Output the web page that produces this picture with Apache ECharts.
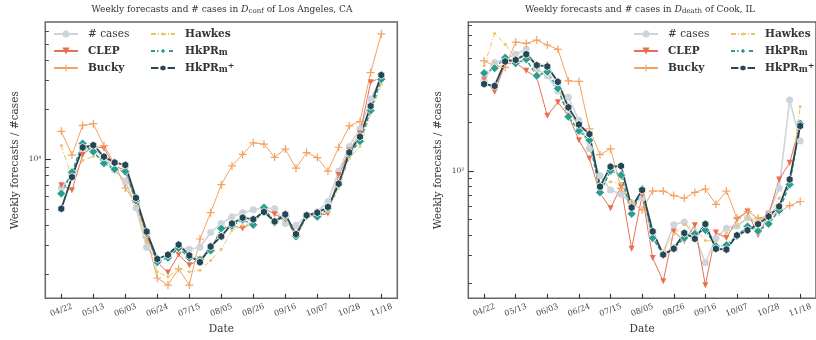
<!DOCTYPE html>
<html><head><meta charset="utf-8">
<script src="https://cdn.jsdelivr.net/npm/echarts@6/dist/echarts.min.js"></script>
<style>html,body{margin:0;padding:0;background:#fff}#c{width:816px;height:340px}</style>
</head><body><div id="c"></div>
<script>
// ---- data ----
const dates = ['04/22','04/29','05/06','05/13','05/20','05/27','06/03','06/10','06/17','06/24','07/01','07/08','07/15','07/22','07/29','08/05','08/12','08/19','08/26','09/02','09/09','09/16','09/23','09/30','10/07','10/14','10/21','10/28','11/04','11/11','11/18'];
const xTickIdx = [0,3,6,9,12,15,18,21,24,27,30];

// Los Angeles, CA (confirmed cases)
const laCases  = [6700,8130,11320,11640,10140,8590,7380,5090,2930,2480,2620,2930,2850,2930,3600,4080,4490,4750,4950,5090,5020,4080,3970,4560,4820,5530,8470,11960,15330,23200,31400];
const laClep   = [6960,6500,10610,12100,11640,9080,8590,5450,3460,2380,2060,2640,2280,2480,2860,3760,3970,3810,4140,5090,4640,4310,3560,4560,4560,4690,8020,11320,14310,29300,31400];
const laBucky  = [14770,10610,16040,16430,12090,9460,6700,5450,3370,1910,1730,2170,1730,3290,4750,7020,9120,10710,12590,12350,10280,11530,8830,10980,10240,8470,11830,15920,16950,33500,57500];
const laHawkes = [12130,7700,9860,10420,10140,9080,8130,5450,3140,2080,1940,2160,2080,2125,2440,2850,3700,3970,4140,4950,4310,4430,3370,4430,4560,4820,6700,10140,11960,18860,28500];
const laHkm    = [6200,8360,12470,11120,9460,8710,8440,5630,3560,2380,2530,2900,2530,2460,2800,3810,3950,4310,4010,5090,4140,4540,3410,4540,4490,5050,7020,10750,12870,19740,30500];
const laHkmp   = [5020,7800,11800,12180,10380,9550,9240,5840,3650,2490,2640,3040,2615,2380,2960,3410,4080,4430,4330,4800,4200,4640,3520,4580,4750,5140,7110,11010,13700,21000,32400];

// Cook, IL (deaths)
const ckCases  = [362,471,493,530,569,428,389,313,286,205,137,93,75.9,71.4,63,67.5,38.2,31,46.2,48,39.3,26.8,38.2,44,45.3,50.8,47.3,54.5,77.8,275,153];
const ckClep   = [371,310,460,471,418,380,220,267,220,155,119,72.5,58.5,79.7,32.7,70.7,28.7,20.6,42,36.5,45.8,19.4,41.4,38.2,49.6,55.8,39.7,53.2,88.4,112,196];
const ckBucky  = [482,449,439,631,619,649,605,569,362,359,182,126,137,77.8,63,57.1,74.8,74.8,70.1,67.5,73.4,77,61.9,74.8,50.8,55.8,50.8,52.2,55.3,60.8,64.4];
const ckHawkes = [449,714,611,505,530,428,471,323,236,188,158,83.5,85.5,83.5,60,72.5,39.8,31.6,40.4,46.2,44,36.8,36.5,41,45.3,50.8,49.3,52.2,67.5,83.5,250];
const ckHkm    = [405,434,505,466,493,389,412,325,217,177,155,73.4,100,94,54,77,38.2,30.1,33,38.2,40.6,42.8,34,34.5,39.3,45.1,42.2,46.8,56.7,82.3,196];
const ckHkmp   = [346,337,478,489,530,453,445,357,248,194,169,79.7,106,107,59.1,75.9,42,30.1,32.8,41,37.8,46.6,32.7,32.4,39.7,42.7,46.6,52,60,88.4,190];

const laMajor = [10000];
const laMinor = [2000,3000,4000,5000,6000,7000,8000,9000,20000,30000,40000,50000,60000];
const ckMajor = [100];
const ckMinor = [20,30,40,50,60,70,80,90,200,300,400,500,600,700,800];
const laRange = [1437, 67900];
const ckRange = [16.1, 841];

// ---- chart ----
const SERIF = 'DejaVu Serif';
const plusPath = 'path://M0,4.25H10V5.75H0Z M4.25,0H5.75V10H4.25Z';
const hexPath = 'path://M5,0 L9.33,2.5 L9.33,7.5 L5,10 L0.67,7.5 L0.67,2.5 Z';

const styles = {
  '# cases': {symbol:'circle', symbolSize:7, lineStyle:{color:'#ced4da', width:1.6}, itemStyle:{color:'#ced4da'}},
  'CLEP':    {symbol:'triangle', symbolRotate:180, symbolSize:6, lineStyle:{color:'#e76f51', width:1}, itemStyle:{color:'#e76f51'}},
  'Bucky':   {symbol:plusPath, symbolSize:8, lineStyle:{color:'#f4a261', width:1}, itemStyle:{color:'#f4a261'}},
  'Hawkes':  {symbol:'circle', symbolSize:3, lineStyle:{color:'#e9c46a', width:1, type:[5,2,1,2]}, itemStyle:{color:'#e9c46a'}},
  'HkPRm':   {symbol:'diamond', symbolSize:9, lineStyle:{color:'#2a9d8f', width:1.5, type:[4,2]}, itemStyle:{color:'#2a9d8f', borderColor:'#fff', borderWidth:0.8}},
  'HkPRm+':  {symbol:hexPath, symbolKeepAspect:true, symbolSize:8, lineStyle:{color:'#264653', width:1.8}, itemStyle:{color:'#264653', borderColor:'#fff', borderWidth:0.8}}
};
function mk(name, arr, gi){
  return Object.assign({name, type:'line', xAxisIndex:gi, yAxisIndex:gi*2, silent:true,
    animation:false, showAllSymbol:true, data: arr.map((v,i)=>[i,v])}, styles[name]);
}
const series = [
  mk('# cases',laCases,0), mk('CLEP',laClep,0), mk('Bucky',laBucky,0), mk('Hawkes',laHawkes,0), mk('HkPRm',laHkm,0), mk('HkPRm+',laHkmp,0),
  mk('# cases',ckCases,1), mk('CLEP',ckClep,1), mk('Bucky',ckBucky,1), mk('Hawkes',ckHawkes,1), mk('HkPRm',ckHkm,1), mk('HkPRm+',ckHkmp,1)
];

const grids = [
  {left:45.3, top:22, width:352, height:279.7},
  {left:468.3, top:22, width:351.1, height:279.3}
];
grids.forEach(g=>{g.show=true; g.borderColor='#666'; g.borderWidth=1.5; g.backgroundColor='transparent'; g.containLabel=false;});

function xAx(gi){
  return {type:'value', gridIndex:gi, min:-1.5, max:31.5, splitLine:{show:false},
    axisLine:{show:false, onZero:false},
    axisTick:{show:true, inside:true, length:4.5, customValues:xTickIdx, lineStyle:{color:'#333', width:1.1}},
    axisLabel:{show:true, customValues:xTickIdx, rotate:20, align:'center', verticalAlign:'middle', margin:12,
      fontFamily:SERIF, fontSize:8, color:'#444', formatter:v=>dates[Math.round(v)]},
    name:'Date', nameLocation:'middle', nameGap:24, nameTextStyle:{fontFamily:SERIF, fontSize:10.5, color:'#333'}};
}
function yAx(gi, range, major, minor, sup, main){
  if(main) return {type:'log', logBase:10, gridIndex:gi, position:'left', offset:0, min:range[0], max:range[1], splitLine:{show:false},
    axisLine:{show:false, onZero:false},
    axisTick:{show:true, inside:true, length:5.5, customValues:major, lineStyle:{color:'#333', width:1.1}},
    axisLabel:{show:true, customValues:major, margin:4, fontFamily:SERIF, fontSize:7.5, color:'#444', formatter:()=> '10'+sup},
    name:'Weekly forecasts / #cases', nameLocation:'middle', nameGap:25,
    nameTextStyle:{fontFamily:SERIF, fontSize:10.5, color:'#333'}};
  return {type:'log', logBase:10, gridIndex:gi, position:'left', offset:0, min:range[0], max:range[1], splitLine:{show:false},
    axisLine:{show:false, onZero:false}, axisLabel:{show:false},
    axisTick:{show:true, inside:true, length:3.6, customValues:minor, lineStyle:{color:'#333', width:0.9}}};
}

const richLeg = {
  b:{fontFamily:SERIF, fontSize:10.5, fontWeight:'bold', color:'#333', padding:[0,0,0,5]},
  n:{fontFamily:SERIF, fontSize:10.5, fontWeight:'normal', color:'#333', padding:[0,0,0,5]},
  s:{fontFamily:SERIF, fontSize:8.5, fontWeight:'bold', color:'#333', verticalAlign:'bottom', lineHeight:9},
  p:{fontFamily:SERIF, fontSize:8, fontWeight:'bold', color:'#333', verticalAlign:'top', lineHeight:9}
};
function legFmt(name){
  if(name==='# cases') return '{n|# cases}';
  if(name==='HkPRm') return '{b|HkPR}{s|m}';
  if(name==='HkPRm+') return '{b|HkPR}{s|m}{p|+}';
  return '{b|'+name+'}';
}
function leg(left, top, names, ih){
  return {left, top, orient:'vertical', itemWidth:24, itemHeight:ih, itemGap:5, padding:0,
    selectedMode:false, data:names, formatter:legFmt,
    textStyle:{lineHeight:12, rich:richLeg}};
}

const titleRich = {c:{fontFamily:SERIF, fontSize:9.4, fontStyle:'italic', color:'#333'}, s:{fontFamily:SERIF, fontSize:7, color:'#333', verticalAlign:'bottom', lineHeight:10}};
const option = {
  animation:false,
  title:[
    {text:'Weekly forecasts and # cases in {c|D}{s|conf} of Los Angeles, CA', left:222, top:5, textAlign:'center', padding:0,
      textStyle:{fontFamily:SERIF, fontSize:9, fontWeight:'normal', color:'#333', rich:titleRich}},
    {text:'Weekly forecasts and # cases in {c|D}{s|death} of Cook, IL', left:640, top:5, textAlign:'center', padding:0,
      textStyle:{fontFamily:SERIF, fontSize:9, fontWeight:'normal', color:'#333', rich:titleRich}}
  ],
  legend:[
    leg(53, 28, ['# cases','CLEP','Bucky'], 9), leg(150, 28, ['Hawkes'], 3.75), leg(150, 45, ['HkPRm','HkPRm+'], 9),
    leg(633, 28, ['# cases','CLEP','Bucky'], 9), leg(730, 28, ['Hawkes'], 3.75), leg(730, 45, ['HkPRm','HkPRm+'], 9)
  ],
  grid:grids,
  xAxis:[xAx(0), xAx(1)],
  yAxis:[yAx(0,laRange,laMajor,laMinor,'⁴',true), yAx(0,laRange,laMajor,laMinor,'⁴',false),
         yAx(1,ckRange,ckMajor,ckMinor,'²',true), yAx(1,ckRange,ckMajor,ckMinor,'²',false)],
  series
};
const chart = echarts.init(document.getElementById('c'), null, {renderer:'canvas'});
chart.setOption(option);
</script></body></html>
